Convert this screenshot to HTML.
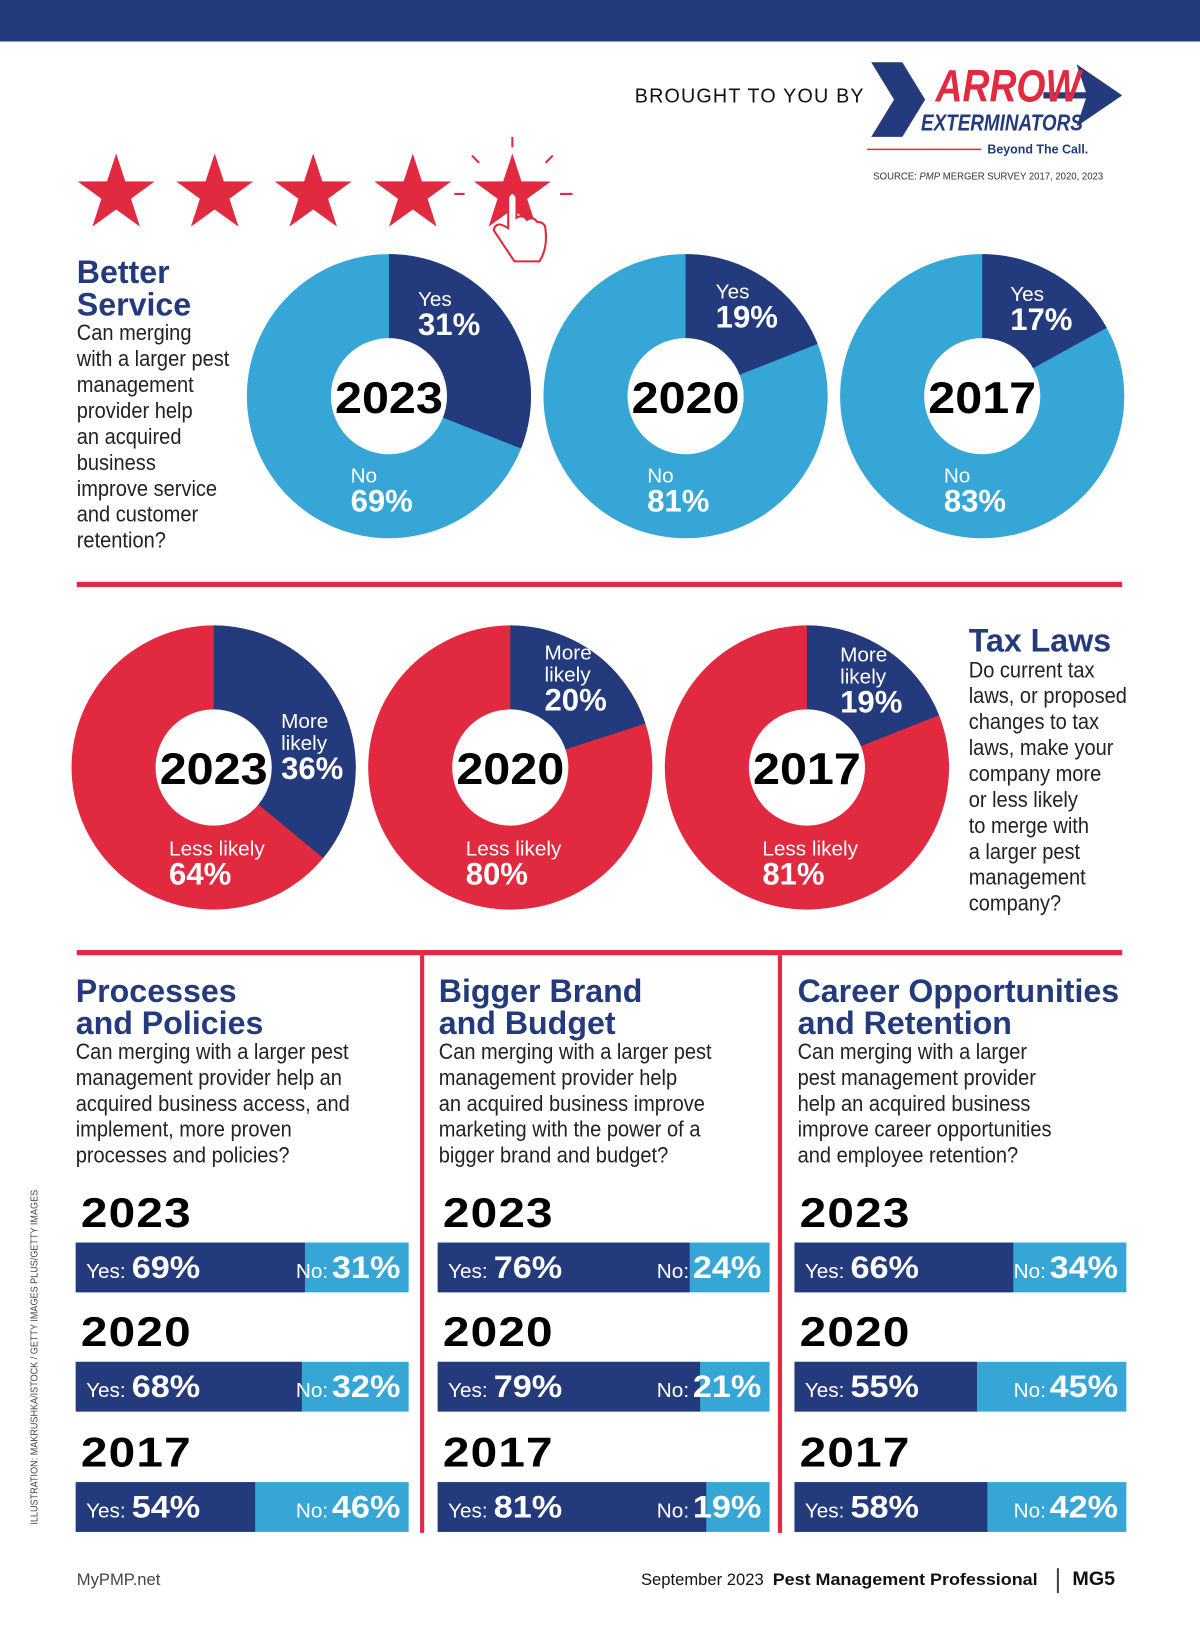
<!DOCTYPE html>
<html><head><meta charset="utf-8"><style>
html,body{margin:0;padding:0;background:#fff;overflow:hidden}
#wrap{position:absolute;left:0;top:0;width:1157px;height:1568px;transform:scale(1.03717);transform-origin:0 0;font-family:"Liberation Sans",sans-serif}
.abs{position:absolute}
.h{font-weight:900;color:#233a7c;font-size:31px;line-height:31px;white-space:nowrap}
.q{font-size:21px;line-height:25px;color:#222;transform:scaleX(0.92);transform-origin:0 0;white-space:nowrap}
.yr{font-weight:900;font-size:40px;color:#000;letter-spacing:1px;transform:scaleX(1.15);transform-origin:0 0}
.pct{font-size:30px;font-weight:900;display:inline-block;transform:scaleX(1.1);transform-origin:0 50%}
</style></head><body>
<div id="wrap">
<div class="abs" style="left:0;top:0;width:1157px;height:40px;background:#233a7c"></div>
<div class="abs" style="left:612px;top:82px;font-size:20px;letter-spacing:1.2px;color:#111;transform:scaleX(0.95);transform-origin:0 0">BROUGHT TO YOU BY</div>
<svg class="abs" style="left:836px;top:56px" width="250" height="100">
<polygon points="4,4 34,4 56,40 34,76 4,76 26,40" fill="#233a7c"/>
<polygon points="202,6 246,36 202,66 212,36" fill="#233a7c"/>
<line x1="170" y1="36" x2="214" y2="36" stroke="#233a7c" stroke-width="6"/>
<text x="66" y="42" font-family="Liberation Sans" font-weight="900" font-style="italic" font-size="44" fill="#e12a3f" textLength="140" lengthAdjust="spacingAndGlyphs">ARROW</text>
<text x="52" y="70" font-family="Liberation Sans" font-weight="900" font-style="italic" font-size="22" fill="#233a7c" textLength="156" lengthAdjust="spacingAndGlyphs">EXTERMINATORS</text>
<line x1="0" y1="88" x2="110" y2="88" stroke="#e12a3f" stroke-width="1.5"/>
<text x="116" y="92" font-family="Liberation Sans" font-weight="bold" font-size="12" fill="#233a7c">Beyond The Call.</text>
</svg>
<div class="abs" style="left:842px;top:165px;font-size:10px;color:#333;white-space:nowrap;transform:scaleX(0.92);transform-origin:0 0">SOURCE: <i>PMP</i> MERGER SURVEY 2017, 2020, 2023</div>
<svg class="abs" style="left:60px;top:120px" width="520" height="160" id="stars"></svg>

<div class="abs h" style="left:74px;top:247px">Better<br>Service</div>
<div class="abs q" style="left:74px;top:309px">Can merging<br>with a larger pest<br>management<br>provider help<br>an acquired<br>business<br>improve service<br>and customer<br>retention?</div>
<svg class="abs" style="left:0;top:230px" width="1157" height="310" id="donut1"></svg>
<div class="abs" style="left:74px;top:561px;width:1008px;height:5px;background:#e12a3f"></div>
<svg class="abs" style="left:0;top:590px" width="1157" height="300" id="donut2"></svg>
<div class="abs h" style="left:934px;top:602px">Tax Laws</div>
<div class="abs q" style="left:934px;top:634px">Do current tax<br>laws, or proposed<br>changes to tax<br>laws, make your<br>company more<br>or less likely<br>to merge with<br>a larger pest<br>management<br>company?</div>
<div class="abs" style="left:74px;top:916px;width:1008px;height:5px;background:#e12a3f"></div>
<div class="abs" style="left:405px;top:921px;width:4px;height:557px;background:#e12a3f"></div>
<div class="abs" style="left:750px;top:921px;width:4px;height:557px;background:#e12a3f"></div>

<div class="abs h" style="left:73px;top:940px">Processes<br>and Policies</div>
<div class="abs q" style="left:73px;top:1002px">Can merging with a larger pest<br>management provider help an<br>acquired business access, and<br>implement, more proven<br>processes and policies?</div>
<div class="abs h" style="left:423px;top:940px">Bigger Brand<br>and Budget</div>
<div class="abs q" style="left:423px;top:1002px">Can merging with a larger pest<br>management provider help<br>an acquired business improve<br>marketing with the power of a<br>bigger brand and budget?</div>
<div class="abs h" style="left:769px;top:940px">Career Opportunities<br>and Retention</div>
<div class="abs q" style="left:769px;top:1002px">Can merging with a larger<br>pest management provider<br>help an acquired business<br>improve career opportunities<br>and employee retention?</div>
<div id="bars"></div>

<div class="abs" style="left:28px;top:1470px;font-size:9.5px;color:#444;transform:rotate(-90deg) scaleX(0.92);transform-origin:0 0;white-space:nowrap">ILLUSTRATION: MAKRUSHKA/ISTOCK / GETTY IMAGES PLUS/GETTY IMAGES</div>
<div class="abs" style="left:74px;top:1515px;font-size:16px;color:#444">MyPMP.net</div>
<div class="abs" style="left:618px;top:1515px;font-size:16px;color:#111;white-space:nowrap">September 2023 &nbsp;<b style="font-weight:900;display:inline-block;transform:scaleX(1.08);transform-origin:0 0">Pest Management Professional</b></div>
<div class="abs" style="left:1019px;top:1512px;width:2px;height:24px;background:#444"></div>
<div class="abs" style="left:1034px;top:1512px;font-size:19px;font-weight:900;color:#111">MG5</div>
</div>
<script>
const NS="http://www.w3.org/2000/svg";
const years=["2023","2020","2017"];
const serviceYes=[31,19,17];
const serviceNo=[69,81,83];
const taxMore=[36,20,19];
const taxLess=[64,80,81];
const processYes=[69,68,54];
const brandYes=[76,79,81];
const careerYes=[66,55,58];

function mk(tag,attrs,parent){const e=document.createElementNS(NS,tag);for(const k in attrs)e.setAttribute(k,attrs[k]);parent.appendChild(e);return e;}
function txt(parent,x,y,s,size,weight,fill,anchor){const t=mk('text',{x:x,y:y,'font-family':'Liberation Sans','font-size':size,'font-weight':weight,fill:fill,'text-anchor':anchor||'start'},parent);t.textContent=s;return t;}
function arc(cx,cy,r,pct){const a=pct/100*2*Math.PI;const x=cx+r*Math.sin(a),y=cy-r*Math.cos(a);return `M${cx},${cy} L${cx},${cy-r} A${r},${r} 0 ${pct>50?1:0} 1 ${x},${y} Z`;}

const st=document.getElementById('stars');
[52,147,242,338,434].forEach(cx=>{let p=[];for(let i=0;i<10;i++){const r=i%2?15:39,a=i*Math.PI/5;p.push((cx+r*Math.sin(a))+','+(67-r*Math.cos(a)));}
const s=mk('polygon',{points:p.join(' '),fill:'#e12a3f'},st);

});
[[434,12,434,22],[395,30,402,37],[473,30,466,37],[378,67,388,67],[480,67,492,67]].forEach(l=>mk('line',{x1:l[0],y1:l[1],x2:l[2],y2:l[3],stroke:'#e12a3f','stroke-width':2},st));
mk('path',{d:'M430,70 v30 q-12,-8 -14,2 l20,30 h24 q8,-12 6,-30 q0,-8 -8,-8 q-4,-6 -10,-2 q-4,-6 -10,-2 v-20 q-4,-8 -8,0 z',fill:'#fff',stroke:'#e12a3f','stroke-width':2},st);

function donuts(svgId,cxs,cy,yes,no,bg,fg,yesLbl,yesPos,noLbl,noPos){
 const svg=document.getElementById(svgId);
 cxs.forEach((cx,i)=>{
  const g=mk('g',{},svg);
  
  
  const b=mk('circle',{cx:cx,cy:cy,r:137,fill:bg},g);
  
  
  const s=mk('path',{d:arc(cx,cy,137,yes[i]),fill:fg},g);
  
  
  mk('circle',{cx:cx,cy:cy,r:56,fill:'#fff'},g);
  const yt=txt(g,cx,cy+16,years[i],43,900,'#000','middle');
  yt.setAttribute('textLength','104');
  yt.setAttribute('lengthAdjust','spacingAndGlyphs');
  const yp=yesPos[i];
  yesLbl.forEach((l,k)=>txt(g,cx+yp[0],cy+yp[1]+k*21,l,20,400,'#fff'));
  txt(g,cx+yp[0],cy+yp[1]+yesLbl.length*21+7,yes[i]+'%',30,900,'#fff');
  txt(g,cx+noPos[0],cy+noPos[1],noLbl,20,400,'#fff');
  txt(g,cx+noPos[0],cy+noPos[1]+28,no[i]+'%',30,900,'#fff');
 });
}
donuts('donut1',[375,661,947],152,serviceYes,serviceNo,'#35a6d6','#233a7c',['Yes'],[[28,-87],[29,-94],[27,-92]],'No',[-37,83]);
donuts('donut2',[206,492,778],150,taxMore,taxLess,'#e12a3f','#233a7c',['More','likely'],[[65,-38],[33,-104],[32,-102]],'Less likely',[-43,85]);

const bars=document.getElementById('bars');
const cols=[[73,321,processYes],[422,320,brandYes],[766,320,careerYes]];
const rowY=[1198,1313,1429];
cols.forEach((c,ci)=>{
 c[2].forEach((v,i)=>{
  const y=rowY[i];
  const yr=document.createElement('div');yr.className='abs yr';yr.style.cssText=`left:${c[0]+5}px;top:${y-50}px`;yr.textContent=years[i];
  
  
  bars.appendChild(yr);
  const wy=c[1]*v/100;
  const b=document.createElement('div');b.className='abs';b.style.cssText=`left:${c[0]}px;top:${y}px;width:${c[1]}px;height:48px;background:#35a6d6`;
  
  
  const n=document.createElement('div');n.className='abs';n.style.cssText=`left:0;top:0;width:${wy}px;height:48px;background:#233a7c`;
  
  
  b.appendChild(n);
  const ly=document.createElement('div');ly.className='abs';ly.style.cssText='left:10px;top:8px;color:#fff;white-space:nowrap';
  ly.innerHTML='<span style="font-size:20px">Yes:&nbsp;</span><span class="pct">'+v+'%</span>';
  b.appendChild(ly);
  const ln=document.createElement('div');ln.className='abs';ln.style.cssText='right:8px;top:8px;color:#fff;white-space:nowrap';
  ln.innerHTML='<span style="font-size:20px">No:&nbsp;</span><span class="pct" style="transform-origin:100% 50%;margin-left:4px">'+(100-v)+'%</span>';
  b.appendChild(ln);
  bars.appendChild(b);
 });
});
</script>
</body></html>
